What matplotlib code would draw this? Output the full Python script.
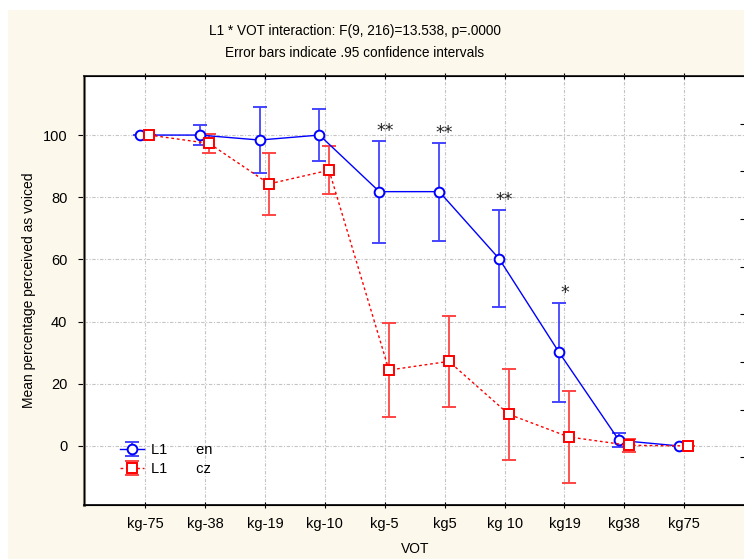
import numpy as np
import matplotlib
matplotlib.use("Agg")
import matplotlib.pyplot as plt
from matplotlib.patches import Rectangle

plt.rcParams["font.family"] = ["Liberation Sans", "DejaVu Sans"]

# VOT continuum steps
categories = ["kg-75", "kg-38", "kg-19", "kg-10", "kg-5", "kg5", "kg 10", "kg19", "kg38", "kg75"]

# L1 = en: means and 95% CI half-widths
en_mean = [100, 100, 98.4, 100, 81.8, 81.8, 60.2, 30.1, 1.8, 0]
en_ci = [0, 3.3, 10.7, 8.3, 16.4, 15.8, 15.6, 16.0, 2.3, 0]

# L1 = cz
cz_mean = [100, 97.3, 84.3, 88.7, 24.4, 27.2, 10.2, 2.9, 0.2, 0]
cz_ci = [0, 3.0, 9.9, 7.7, 15.1, 14.6, 14.6, 14.7, 2.0, 0]

# significance of en vs cz at each step
sig = ["", "", "", "", "**", "**", "**", "*", "", ""]

W, H = 744, 559
fig = plt.figure(figsize=(W / 100, H / 100), dpi=100)
fig.patch.set_facecolor("white")
fig.add_artist(Rectangle((8 / W, 0), 1, 1 - 10 / H, transform=fig.transFigure,
                         facecolor="#fdf8ec", edgecolor="none", zorder=-5))

ax = fig.add_axes([84 / W, 1 - 505 / H, 662 / W, 429 / H])
ax.set_facecolor("white")

x = np.arange(len(categories))
ylim = (-19, 119)

eb_en = ax.errorbar(x - 0.09, en_mean, yerr=en_ci, fmt="-o", color="#0000ff", lw=1.0,
                    ms=7, mfc="white", mec="#0000ff", mew=1.4,
                    ecolor="#4444ff", elinewidth=1.3, capsize=5, capthick=1.3,
                    label="L1       en")
eb_cz = ax.errorbar(x + 0.07, cz_mean, yerr=cz_ci, fmt="s", linestyle=(0, (2, 2)),
                    color="#ff0000", lw=1.0, ms=7, mfc="white", mec="#ff0000", mew=1.4,
                    ecolor="#ff4444", elinewidth=1.3, capsize=5, capthick=1.3,
                    label="L1       cz")

for xi, m, c, s in zip(x, en_mean, en_ci, sig):
    if s:
        ax.text(xi, m + c + 0.3, s, ha="center", va="bottom", fontsize=12.5,
                family="DejaVu Sans", color="#222222")

ax.set_xlim(-1.02, 10.03)
ax.set_ylim(*ylim)
ax.set_xticks(x)
ax.set_xticklabels(categories, fontsize=10.5)
ax.set_yticks(np.arange(0, 101, 20))
ax.tick_params(axis="y", labelsize=10.5, direction="out", length=4, pad=8, left=True)
ax.tick_params(axis="x", direction="inout", length=5, pad=6, top=True)
ax.grid(True, color="#c4c4c4", linestyle=(0, (3, 1.5, 1, 1.5)), linewidth=0.8)
ax.set_axisbelow(True)

ax.spines["left"].set_color("#857c6c")
ax.spines["left"].set_linewidth(2.2)
ax.spines["bottom"].set_color("#202020")
ax.spines["bottom"].set_linewidth(1.4)
ax.spines["top"].set_color("#303030")
ax.spines["top"].set_linewidth(1.4)
ax.spines["right"].set_color("#303030")

# right-hand ticks split the value range into nine equal parts
axr = ax.twinx()
axr.set_ylim(*ylim)
axr.set_yticks(np.linspace(ylim[0], ylim[1], 10)[1:-1])
axr.tick_params(axis="y", direction="in", length=4, labelright=False)

ax.set_ylabel("Mean percentage perceived as voiced", fontsize=10, labelpad=5)
ax.set_xlabel("VOT", fontsize=10, labelpad=8)

ax.legend(handles=[eb_en, eb_cz], loc="upper left", bbox_to_anchor=(0.035, 0.175),
          frameon=False, fontsize=10.5, handlelength=1.6, handletextpad=0.5,
          labelspacing=0.35)

fig.text(355 / W, 1 - 31 / H, "L1 * VOT interaction: F(9, 216)=13.538, p=.0000",
         ha="center", va="center", fontsize=9.8)
fig.text(355 / W, 1 - 53 / H, "Error bars indicate .95 confidence intervals",
         ha="center", va="center", fontsize=9.8)

fig.savefig("out.png", dpi=100, facecolor=fig.get_facecolor())
